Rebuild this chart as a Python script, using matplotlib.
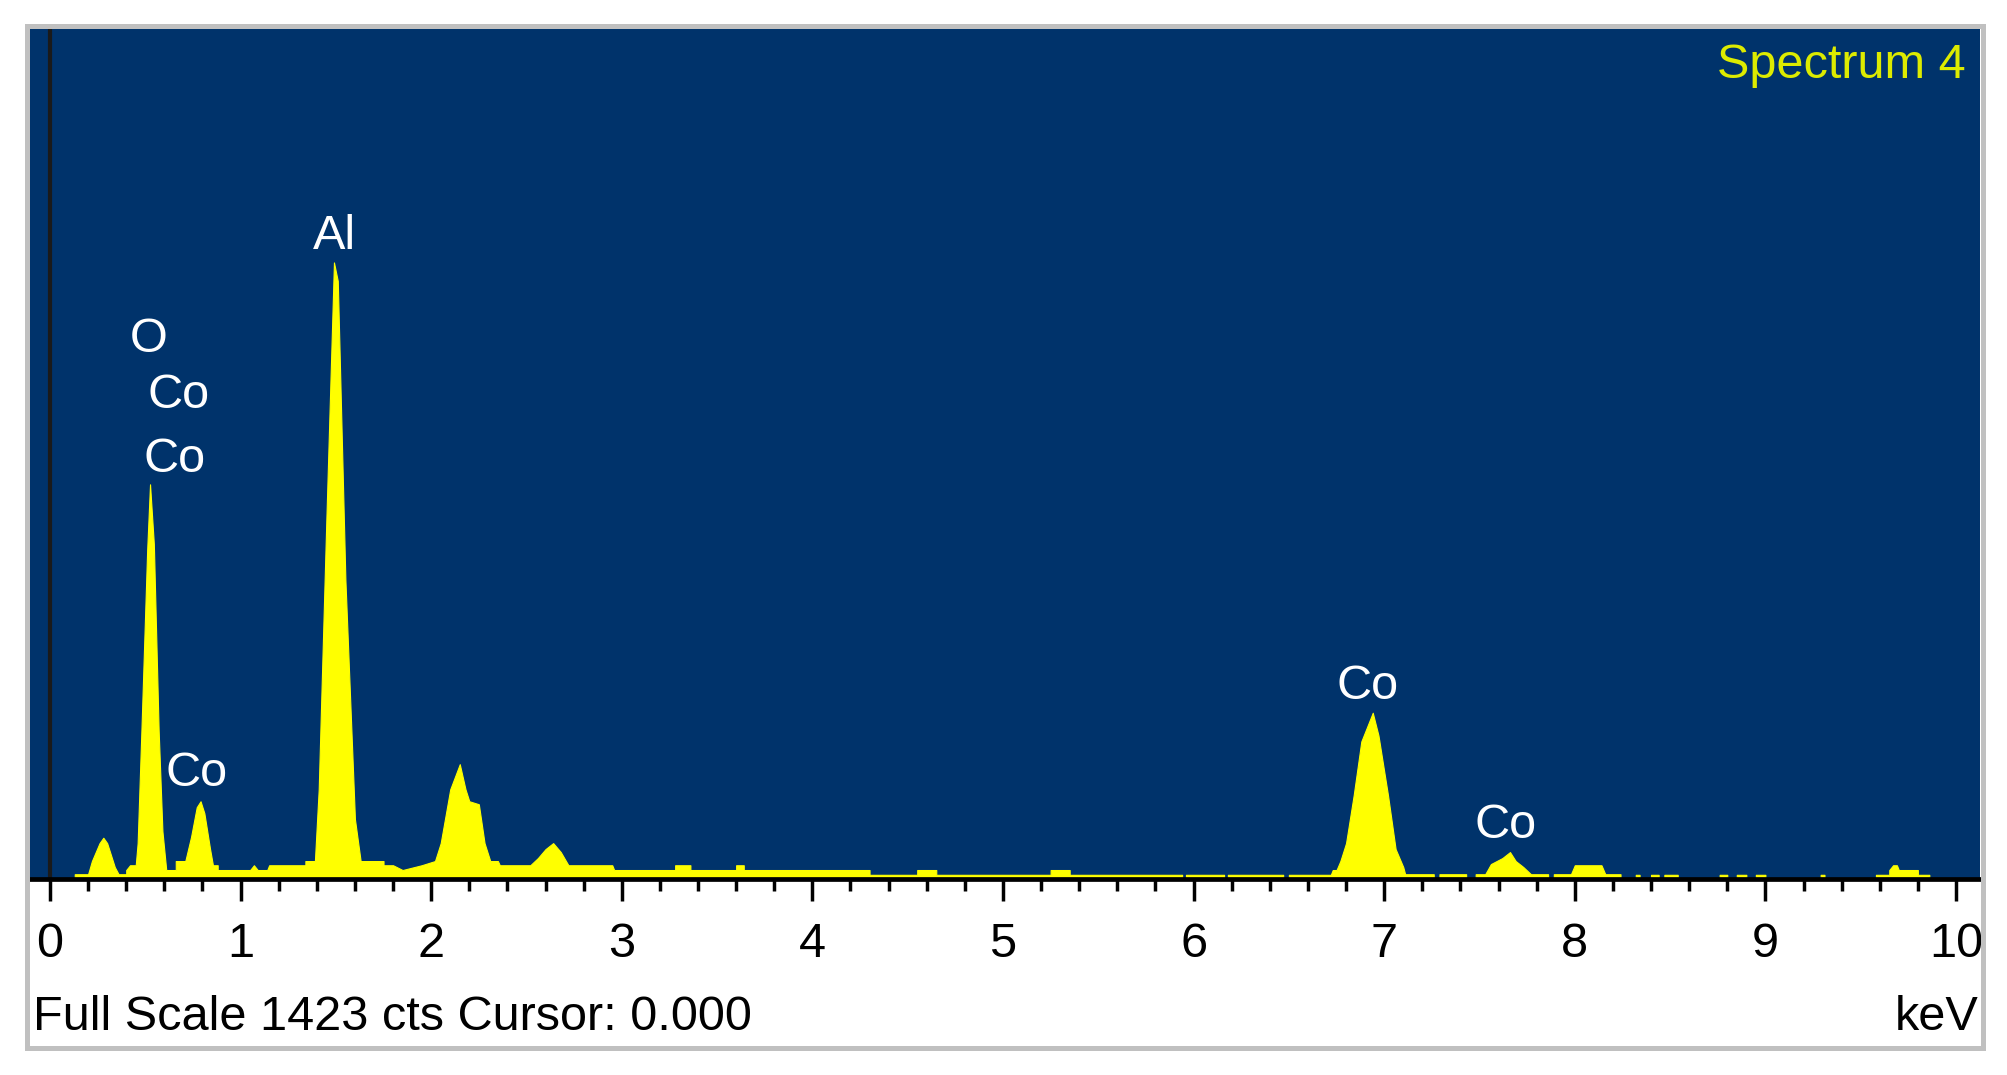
import matplotlib.pyplot as plt
from matplotlib.patches import Rectangle
from matplotlib.ticker import MultipleLocator

plt.rcParams['font.family'] = ['Liberation Sans', 'DejaVu Sans']

# --- spectrum (keV, counts) ---
energy_kev = [0.13, 0.13, 0.20, 0.22, 0.26, 0.28, 0.30, 0.34, 0.36, 0.40, 0.40, 0.42, 0.45,
              0.46, 0.48, 0.51, 0.525, 0.545, 0.57, 0.59, 0.61, 0.66, 0.66, 0.71,
              0.74, 0.77, 0.79, 0.81, 0.84, 0.855, 0.88, 0.88, 1.05, 1.07, 1.09, 1.14, 1.15,
              1.34, 1.34, 1.39,
              1.41, 1.45, 1.49, 1.51, 1.55, 1.60, 1.63, 1.75, 1.75, 1.80, 1.85, 1.95, 2.02,
              2.05, 2.10, 2.15, 2.18, 2.20, 2.25, 2.28, 2.31, 2.35, 2.36, 2.52, 2.56, 2.60,
              2.64, 2.68, 2.72, 2.95, 2.96,
              3.28, 3.28, 3.36, 3.36, 3.60, 3.60, 3.64, 3.64, 4.30, 4.30,
              4.55, 4.55, 4.65, 4.65, 5.25, 5.25, 5.35, 5.35,
              5.94, 5.94, 5.96, 5.96, 6.16, 6.16, 6.18, 6.18, 6.47, 6.47, 6.50, 6.50,
              6.72, 6.73, 6.75, 6.77, 6.80, 6.84, 6.88, 6.94, 6.97, 7.02, 7.06, 7.10, 7.11,
              7.26, 7.26, 7.29, 7.29, 7.43, 7.43, 7.48, 7.48,
              7.53, 7.56, 7.62, 7.66, 7.69, 7.73, 7.77, 7.86, 7.86, 7.89, 7.89,
              7.98, 8.00, 8.14, 8.16, 8.24, 8.24,
              8.32, 8.32, 8.34, 8.34, 8.40, 8.40, 8.44, 8.44, 8.47, 8.47, 8.54, 8.54,
              8.76, 8.76, 8.80, 8.80, 8.85, 8.85, 8.90, 8.90, 8.95, 8.95, 9.00, 9.00,
              9.29, 9.29, 9.31, 9.31,
              9.58, 9.58, 9.65, 9.65, 9.67, 9.69, 9.70, 9.80, 9.80, 9.86, 9.86]
counts = [0, 8, 8, 30, 60, 69, 60, 20, 8, 8, 15, 23, 23,
          60, 250, 550, 660, 560, 250, 80, 15, 15, 30, 30,
          70, 120, 130, 110, 50, 23, 23, 15, 15, 23, 15, 15, 23,
          23, 30, 30,
          150, 600, 1031, 1000, 500, 100, 30, 30, 23, 23, 15, 23, 30,
          60, 150, 192, 150, 130, 125, 60, 30, 30, 23, 23, 35, 50,
          60, 45, 23, 23, 15,
          15, 23, 23, 15, 15, 23, 23, 15, 15, 7,
          7, 15, 15, 7, 7, 15, 15, 7,
          7, 0, 0, 7, 7, 0, 0, 7, 7, 0, 0, 7,
          7, 15, 15, 30, 60, 140, 230, 278, 240, 140, 50, 20, 8,
          8, 0, 0, 8, 8, 0, 0, 8,
          8, 25, 35, 45, 30, 20, 8, 8, 0, 0, 8,
          8, 23, 23, 8, 8, 0,
          0, 7, 7, 0, 0, 7, 7, 0, 0, 7, 7, 0,
          0, 7, 7, 0, 0, 7, 7, 0, 0, 7, 7, 0,
          0, 7, 7, 0,
          0, 7, 7, 15, 23, 23, 15, 15, 7, 7, 0]

# peak labels
peak_names = ['Al', 'O', 'Co', 'Co', 'Co', 'Co', 'Co']
peak_kev = [1.495, 0.519, 0.677, 0.656, 0.771, 6.915, 7.639]
peak_label_y = [1053, 882, 788, 680, 156, 301, 69]

full_scale = 1423
major_ticks = list(range(0, 11))

W, H = 2007, 1075
fig = plt.figure(figsize=(W / 100, H / 100), dpi=100)
fig.patch.set_facecolor('white')

ax = fig.add_axes([29 / W, (H - 879) / H, 1951 / W, 851 / H])
ax.set_facecolor('#00336B')
ax.fill_between(energy_kev, 0, counts, color='#FFFF00', linewidth=0.8, edgecolor='#FFFF00')
ax.axvline(0, color='#1A1A1A', linewidth=3)

for name, x, y in zip(peak_names, peak_kev, peak_label_y):
    ax.text(x, y, name, color='white', fontsize=35, ha='center', va='baseline')

ax.set_xlim(-0.11, 10.126)
ax.set_ylim(0, full_scale)
ax.set_yticks([])
ax.set_xticks(major_ticks)
ax.set_xticklabels([str(t) for t in major_ticks])
ax.xaxis.set_minor_locator(MultipleLocator(0.2))
ax.tick_params(axis='x', which='major', length=16, width=2.5, direction='out',
               labelsize=35, pad=15, color='black')
ax.tick_params(axis='x', which='minor', length=8.5, width=2.5, direction='out', color='black')
for side in ['top', 'left', 'right']:
    ax.spines[side].set_visible(False)
ax.spines['bottom'].set_linewidth(3.4)
ax.spines['bottom'].set_color('black')

fig.text(1966 / W, (H - 78) / H, 'Spectrum 4', color='#DDEB00', fontsize=35,
         ha='right', va='baseline')
fig.text(33 / W, (H - 1030) / H, 'Full Scale 1423 cts Cursor: 0.000', color='black',
         fontsize=35, ha='left', va='baseline')
fig.text(1978 / W, (H - 1030) / H, 'keV', color='black', fontsize=35,
         ha='right', va='baseline')

# grey frame round the panel
fig.patches.append(Rectangle((26.5 / W, (H - 1047.5) / H), 1956 / W, 1022 / H,
                             transform=fig.transFigure, fill=False,
                             edgecolor='#C0C0C0', linewidth=3.6))

plt.savefig('out.png', dpi=100)
